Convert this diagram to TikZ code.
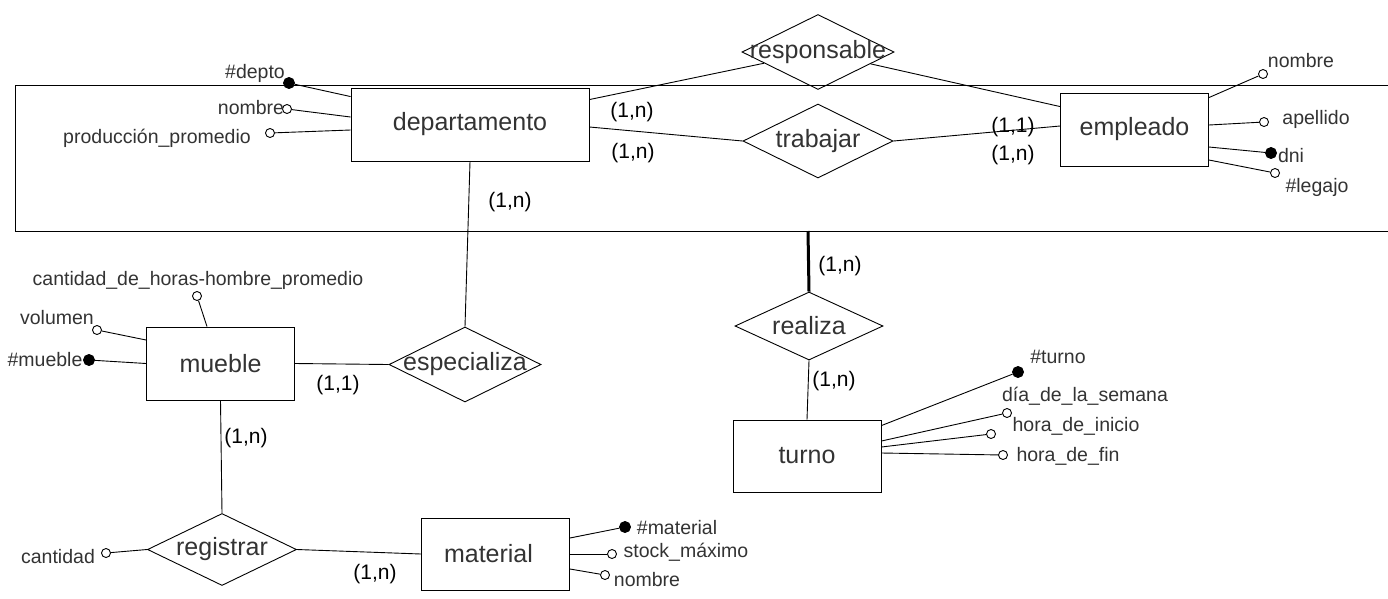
\documentclass[tikz,border=0pt]{standalone}
\usepackage{fontspec}
\setmainfont{Liberation Sans}
\usetikzlibrary{shapes.geometric}
\newcommand{\reltext}[1]{\makebox[0pt]{#1}}
\tikzset{
  entity/.style={draw, minimum width=148pt, minimum height=73pt, inner sep=0pt,
    font=\fontsize{25}{30}\selectfont, text=black!80},
  relation/.style={diamond, draw, minimum width=150pt, minimum height=74pt, inner sep=0pt,
    font=\fontsize{25}{30}\selectfont, text=black!80},
  attr/.style={circle, draw, fill=white, inner sep=0pt, minimum size=9pt},
  keyattr/.style={attr, fill=black, minimum size=11pt},
  attrtext/.style={inner sep=0pt, font=\fontsize{19.5}{22}\selectfont, text=black!80},
  card/.style={inner sep=0pt, font=\fontsize{21}{24}\selectfont},
}
\begin{document}
\begin{tikzpicture}[x=1pt, y=-1pt, line width=0.9pt]
      \useasboundingbox (0,0) rectangle (1388,598);
      \draw (1388,85) -- (15,85) -- (15,231) -- (1388,231);
      \coordinate (aggb) at (808,231);
      \draw
        (470,124.5) node[entity, minimum width=238pt] (dep){departamento}
        (1134.5,129.5) node[entity] (emp){empleado}
        (220.5,363.5) node[entity] (mue){mueble}
        (495.5,554) node[entity, minimum height=72pt] (mat){\hspace*{-14pt}material}
        (807,456) node[entity, minimum height=72pt] (tur){turno}
        (818,52) node[relation, minimum width=152pt, minimum height=75pt] (resp){\reltext{responsable}}
        (818,141) node[relation] (trab){\reltext{trabajar}}
        (465,364.5) node[relation, minimum width=152pt, minimum height=75pt] (espe){\reltext{especializa}}
        (809,326) node[relation, minimum width=148pt, minimum height=68pt] (real){\reltext{realiza}}
        (222,549.5) node[relation, minimum width=149pt, minimum height=72pt] (regi){\reltext{registrar}};
      \draw
        (289,83) node[keyattr] (depid){}
        (287,109) node[attr] (depnom){}
        (270,133) node[attr] (depprod){}
        (1263,74) node[attr] (empnom){}
        (1264,122) node[attr] (empape){}
        (1271,153) node[keyattr] (empdni){}
        (1275,173) node[attr] (empleg){}
        (197,296) node[attr] (muehoras){}
        (97,330) node[attr] (muevol){}
        (89,360) node[keyattr] (mueid){}
        (106,553) node[attr] (regcant){}
        (625,527) node[keyattr] (matid){}
        (612,554) node[attr] (matstock){}
        (605,575) node[attr] (matnom){}
        (1018,372) node[keyattr] (turid){}
        (1007,413) node[attr] (turdia){}
        (991,434) node[attr] (turini){}
        (1003,455) node[attr] (turfin){};
      \draw
        (255,73) node[attrtext] (tdepid){\#depto}
        (251,108) node[attrtext] (tdepnom){nombre}
        (157,138) node[attrtext] (tdepprod){producción\_promedio}
        (1301,61) node[attrtext] (tempnom){nombre}
        (1316,119) node[attrtext] (tempape){apellido}
        (1291,156) node[attrtext] (tempdni){dni}
        (1317,187) node[attrtext] (templeg){\#legajo}
        (198,280) node[attrtext] (tmuehoras){cantidad\_de\_horas-hombre\_promedio}
        (57,318) node[attrtext] (tmuevol){volumen}
        (45,360) node[attrtext] (tmueid){\#mueble}
        (58,557) node[attrtext] (tregcant){cantidad}
        (677,528) node[attrtext] (tmatid){\#material}
        (686,552) node[attrtext] (tmatstock){stock\_máximo}
        (647,580) node[attrtext] (tmatnom){nombre}
        (1058,357) node[attrtext] (tturid){\#turno}
        (1085,396) node[attrtext] (tturdia){día\_de\_la\_semana}
        (1076,426) node[attrtext] (tturini){hora\_de\_inicio}
        (1068,456) node[attrtext] (tturfin){hora\_de\_fin};
      \draw
        (632,112) node[card] (c1){(1,n)}
        (633,153) node[card] (c2){(1,n)}
        (1013,127) node[card] (c3){(1,1)}
        (1013,155) node[card] (c4){(1,n)}
        (510,202) node[card] (c5){(1,n)}
        (338,385) node[card] (c6){(1,1)}
        (246,438) node[card] (c7){(1,n)}
        (375,574) node[card] (c8){(1,n)}
        (840,266) node[card] (c9){(1,n)}
        (834,381) node[card] (c10){(1,n)};
      \begin{scope}[-]
        \draw ([yshift=-12pt]dep.north east) to (resp);
        \draw (resp) to ([yshift=-14pt]emp.north west);
        \draw ([yshift=-2.5pt]dep.east) to (trab.west);
        \draw (trab.east) to ([yshift=3.5pt]emp.west);
        \draw (dep.south) to (espe.north);
        \draw (mue.east) to (espe.west);
        \draw (mue.south) to (regi.north);
        \draw (regi.east) to (mat.west);
        \draw[line width=3pt] (aggb) to (real.north);
        \draw (real.south) to (tur.north);
        \draw (depid) to ([yshift=-9pt]dep.north west);
        \draw (depnom) to ([yshift=7.5pt]dep.west);
        \draw (depprod) to ([yshift=-5.5pt]dep.west);
        \draw ([yshift=-5pt]emp.north east) to (empnom);
        \draw ([yshift=4.5pt]emp.east) to (empape);
        \draw ([yshift=-17.5pt]emp.east) to (empdni);
        \draw ([yshift=-30.5pt]emp.east) to (empleg);
        \draw (muehoras) to ([xshift=-13.5pt]mue.north);
        \draw (muevol) to ([yshift=23.5pt]mue.west);
        \draw (mueid) to (mue.west);
        \draw (regcant) to (regi.west);
        \draw ([yshift=16pt]mat.east) to (matid);
        \draw (mat.east) to (matstock);
        \draw ([yshift=-15pt]mat.east) to (matnom);
        \draw ([yshift=-6pt]tur.north east) to (turid);
        \draw ([yshift=15pt]tur.east) to (turdia);
        \draw ([yshift=9pt]tur.east) to (turini);
        \draw ([yshift=3pt]tur.east) to (turfin);
      \end{scope}
    \end{tikzpicture}
\end{document}
